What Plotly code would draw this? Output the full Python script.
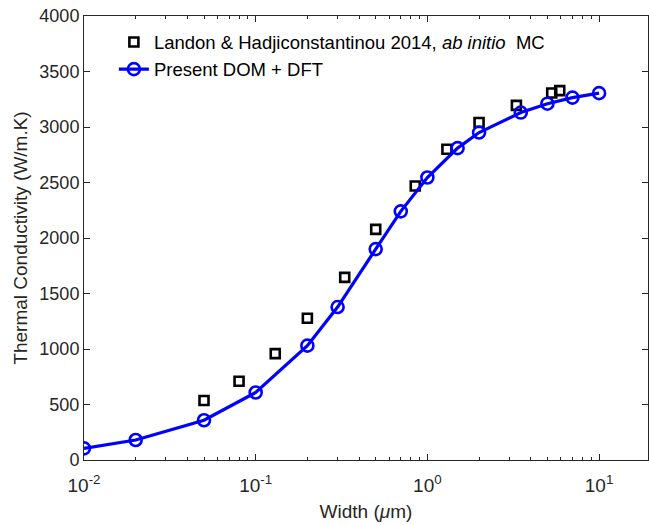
import plotly.graph_objects as go

# Present DOM + DFT
width_dom = [0.01, 0.02, 0.05, 0.1, 0.2, 0.3, 0.5, 0.7, 1.0, 1.5, 2.0, 3.5, 5.0, 7.0, 10.0]
k_dom = [105, 180, 358, 608, 1030, 1378, 1900, 2240, 2545, 2810, 2950, 3130, 3210, 3265, 3305]

# Landon & Hadjiconstantinou 2014, ab initio MC
width_mc = [0.05, 0.08, 0.13, 0.2, 0.33, 0.5, 0.85, 1.3, 2.0, 3.3, 5.3, 5.9]
k_mc = [536, 710, 958, 1277, 1645, 2078, 2468, 2800, 3040, 3195, 3306, 3328]

y_ticks = [0, 500, 1000, 1500, 2000, 2500, 3000, 3500, 4000]
x_major = [0.01, 0.1, 1, 10]
x_minor = [m * d for d in [0.01, 0.1, 1, 10] for m in range(2, 10)]

FONT = "Liberation Sans, Arial, sans-serif"
DARK = "#262626"

fig = go.Figure()
fig.add_trace(go.Scatter(
    x=width_mc, y=k_mc, mode="markers",
    name="Landon & Hadjiconstantinou 2014, <i>ab initio</i>  MC",
    marker=dict(symbol="square-open", size=9, color="black", line=dict(width=2.6, color="black")),
))
fig.add_trace(go.Scatter(
    x=width_dom, y=k_dom, mode="lines+markers",
    name="Present DOM + DFT",
    line=dict(color="#0000ff", width=3.2),
    marker=dict(symbol="circle-open", size=12, color="#0000ff", line=dict(width=2.6, color="#0000ff")),
))

fig.update_layout(
    width=649, height=525,
    margin=dict(l=84, r=1, t=16, b=65),
    paper_bgcolor="white", plot_bgcolor="white",
    font=dict(family=FONT, size=18, color=DARK),
    showlegend=True,
    legend=dict(
        x=0.053, y=0.983, xanchor="left", yanchor="top",
        bgcolor="rgba(0,0,0,0)", borderwidth=0,
        font=dict(family=FONT, size=18.5, color="black"),
        tracegroupgap=0, itemwidth=30,
    ),
    xaxis=dict(
        type="log", range=[-2, 1.285],
        tickmode="array", tickvals=x_major,
        ticktext=["10<sup>-2</sup>", "10<sup>-1</sup>", "10<sup>0</sup>", "10<sup>1</sup>"],
        ticks="inside", ticklen=6, tickcolor=DARK, tickwidth=1,
        ticklabelstandoff=8,
        minor=dict(tickmode="array", tickvals=x_minor, ticks="inside", ticklen=3, tickcolor=DARK, showgrid=False),
        showline=True, linecolor=DARK, linewidth=1, mirror="ticks",
        showgrid=False, zeroline=False,
        tickfont=dict(size=19, color=DARK),
        title=dict(text="Width (<i>μ</i>m)", font=dict(size=19, color=DARK), standoff=9),
    ),
    yaxis=dict(
        range=[0, 4000],
        tickmode="array", tickvals=y_ticks,
        ticks="inside", ticklen=6, tickcolor=DARK, tickwidth=1,
        showline=True, linecolor=DARK, linewidth=1, mirror="ticks",
        showgrid=False, zeroline=False,
        tickfont=dict(size=18, color=DARK),
        title=dict(text="Thermal Conductivity (W/m.K)", font=dict(size=19, color=DARK), standoff=6),
    ),
)

fig.write_html("out.html")
